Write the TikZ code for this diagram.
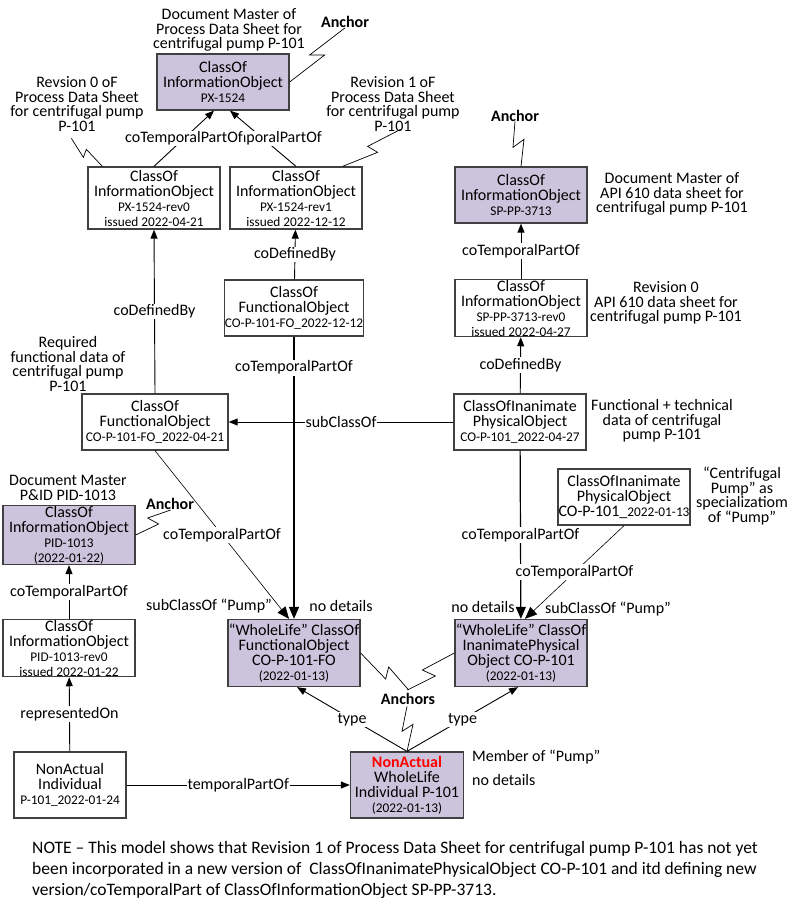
\documentclass[tikz,border=0pt]{standalone}
\usepackage{fontspec}
\setmainfont{Carlito}
\usepackage{xcolor}
\usetikzlibrary{arrows.meta, positioning}
\definecolor{lavender}{RGB}{204,196,220}
\newcommand{\idf}{\fontsize{13.3}{13}\selectfont}

\begin{document}
\begin{tikzpicture}[x=1pt, y=-1pt]
\tikzstyle{infobox} = [rectangle, draw=black!75, line width=1.3pt, fill=white, align=center, inner sep=0.5pt, minimum width=132pt, minimum height=56pt, font=\fontsize{16}{15}\selectfont]
\tikzstyle{master} = [infobox, fill=lavender]
\tikzstyle{remark} = [align=center, inner sep=0pt, font=\fontsize{16}{14.5}\selectfont]
\tikzstyle{anchortext} = [inner sep=0pt, font=\fontsize{16}{15}\selectfont\bfseries]
\tikzstyle{rel} = [-{Triangle[length=9pt,width=7pt]}, line width=0.9pt]
\tikzstyle{bigrel} = [-{Triangle[length=12pt,width=10pt]}, line width=1.2pt]
\tikzstyle{lbl} = [fill=white, inner sep=1pt, font=\fontsize{16}{15}\selectfont]
\tikzstyle{zig} = [line width=0.7pt]

\useasboundingbox (0,0) rectangle (797,911);

\node (pxm) [master] at (223,82) {ClassOf\\InformationObject\\{\idf PX-1524}};
\node (rev0) [infobox, minimum height=62pt] at (154,198) {ClassOf\\InformationObject\\{\idf PX-1524-rev0}\\{\idf issued 2022-04-21}};
\node (rev1) [infobox, minimum height=62pt] at (296,198) {ClassOf\\InformationObject\\{\idf PX-1524-rev1}\\{\idf issued 2022-12-12}};
\node (spm) [master] at (521,195) {ClassOf\\InformationObject\\{\idf SP-PP-3713}};
\node (sprev0) [infobox] at (521,308) {ClassOf\\InformationObject\\{\idf SP-PP-3713-rev0}\\{\idf issued 2022-04-27}};
\node (cop427) [infobox] at (520,422) {ClassOfInanimate\\PhysicalObject\\{\idf CO-P-101\_2022-04-27}};
\node (fo1212) [infobox, minimum width=139pt] at (294,308) {ClassOf\\FunctionalObject\\{\idf CO-P-101-FO\_2022-12-12}};
\node (fo421) [infobox, minimum width=146pt] at (155,422) {ClassOf\\FunctionalObject\\{\idf CO-P-101-FO\_2022-04-21}};
\node (pidm) [master] at (69,535) {ClassOf\\InformationObject\\{\idf PID-1013}\\{\idf (2022-01-22)}};
\node (pidrev0) [infobox] at (69,648) {ClassOf\\InformationObject\\{\idf PID-1013-rev0}\\{\idf issued 2022-01-22}};
\node (nai) [infobox, minimum width=112pt, minimum height=66pt] at (70,785) {NonActual\\Individual\\{\idf P-101\_2022-01-24}};
\node (wli) [master, minimum width=113pt, minimum height=66pt] at (407,785) {{\bfseries\color{red}NonActual}\\WholeLife\\Individual P-101\\{\idf (2022-01-13)}};
\node (wlfo) [master, minimum height=67pt] at (294,653) {“WholeLife” ClassOf\\FunctionalObject\\CO-P-101-FO\\{\idf (2022-01-13)}};
\node (wlipo) [master, minimum height=67pt] at (521,653) {“WholeLife” ClassOf\\InanimatePhysical\\Object CO-P-101\\{\idf (2022-01-13)}};
\node (cop113) [infobox] at (624,497) {ClassOfInanimate\\PhysicalObject\\CO-P-101\_{\idf 2022-01-13}};

\draw[rel] (rev1.north) -- node[lbl] {coTemporalPartOf} ([xshift=7pt]pxm.south);
\draw[rel] (rev0.north) -- node[lbl] {coTemporalPartOf} ([xshift=-9pt]pxm.south);
\draw[rel] (fo421.north) -- node[lbl] {coDefinedBy} (rev0.south);
\draw[rel] (fo1212) -- node[lbl] {coDefinedBy} (rev1);
\draw[rel] (sprev0) -- node[lbl] {coTemporalPartOf} (spm);
\draw[rel] (cop427) -- node[lbl] {coDefinedBy} (sprev0);
\draw[rel] (cop427) -- node[lbl] {subClassOf} (fo421);
\draw[bigrel] (fo1212) -- node[lbl, pos=0.11] {coTemporalPartOf} (wlfo);
\draw[bigrel, line width=0.6pt] (fo421.south) -- node[lbl] {coTemporalPartOf} ([xshift=-5pt]wlfo.north);
\draw[bigrel] (cop427) -- node[lbl] {coTemporalPartOf} (wlipo);
\draw[bigrel, line width=0.6pt] (cop113.south) -- node[lbl] {coTemporalPartOf} ([xshift=4pt]wlipo.north);
\draw[rel] (wli.north) -- node[lbl] {type} ([xshift=3pt]wlfo.south);
\draw[rel] (wli.north) -- node[lbl] {type} ([xshift=-3pt]wlipo.south);
\draw[rel] (pidrev0) -- node[lbl] {coTemporalPartOf} (pidm);
\draw[rel] (nai) -- node[lbl] {representedOn} (pidrev0);
\draw[rel] (nai) -- node[lbl] {temporalPartOf} (wli);

\node (pxmnote) [remark] at (229,30) {Document Master of\\Process Data Sheet for\\centrifugal pump P-101};
\node (rev0note) [remark] at (77,104) {Revsion 0 oF\\Process Data Sheet\\for centrifugal pump\\P-101};
\node (rev1note) [remark] at (393,104) {Revision 1 oF\\Process Data Sheet\\for centrifugal pump\\P-101};
\node (spnote) [remark] at (672,194) {Document Master of\\API 610 data sheet for\\centrifugal pump P-101};
\node (sprev0note) [remark] at (666,303) {Revision 0\\API 610 data sheet for\\centrifugal pump P-101};
\node (cop427note) [remark] at (662,421) {Functional + technical\\data of centrifugal\\pump P-101};
\node (fo421note) [remark] at (68,364) {Required\\functional data of\\centrifugal pump\\P-101};
\node (pidnote) [remark] at (68,488) {Document Master\\P\&ID PID-1013};
\node (cop113note) [remark] at (742,496) {“Centrifugal\\Pump” as\\specializatiom\\of “Pump”};
\node (member) [remark, anchor=west] at (472,757) {Member of “Pump”};
\node (nodet3) [remark, anchor=west] at (472,780) {no details};
\node (sub1) [remark] at (209,606) {subClassOf “Pump”};
\node (nodet1) [remark] at (341,606) {no details};
\node (nodet2) [remark] at (483,607) {no details};
\node (sub2) [remark] at (608,609) {subClassOf “Pump”};

\node (anc1) [anchortext] at (345,22) {Anchor};
\node (anc2) [anchortext] at (515,116) {Anchor};
\node (anc3) [anchortext] at (170,504) {Anchor};
\node (anc4) [anchortext] at (408,699) {Anchors};

\draw[zig] (pxm.east) -- ++(35,-27) -- ++(-15,0) -- (anc1.south);
\draw[zig] (rev0.north west) ++(15,0) -- ++(-16,-17) -- ++(-3,8) -- ++(-12,-19);
\draw[zig] (rev1.north east) ++(-20,0) -- ++(35,-14) -- ++(-10,-6) -- ++(33,-17);
\draw[zig] (spm.north) -- ++(3,-27) -- ++(-11,8) -- ++(2,-26);
\draw[zig] (pidm.east) -- ++(23,-11) -- ++(-11,-6) -- ++(23,-8);
\draw[zig] (wlfo.east) -- ++(25,26) -- ++(3,-12) -- ++(20,23);
\draw[zig] (wlipo.west) -- ++(-32,17) -- ++(13,6) -- ++(-28,14);
\draw[zig] (wli.north) -- ++(6,-27) -- ++(-11,7) -- ++(5,-25);

\node (note) [anchor=west, align=left, inner sep=0pt, font=\fontsize{17.5}{21}\selectfont] at (32,870) {NOTE – This model shows that Revision 1 of Process Data Sheet for centrifugal pump P-101 has not yet\\been incorporated in a new version of\ \ ClassOfInanimatePhysicalObject CO-P-101 and itd defining new\\version/coTemporalPart of ClassOfInformationObject SP-PP-3713.};
\end{tikzpicture}
\end{document}
